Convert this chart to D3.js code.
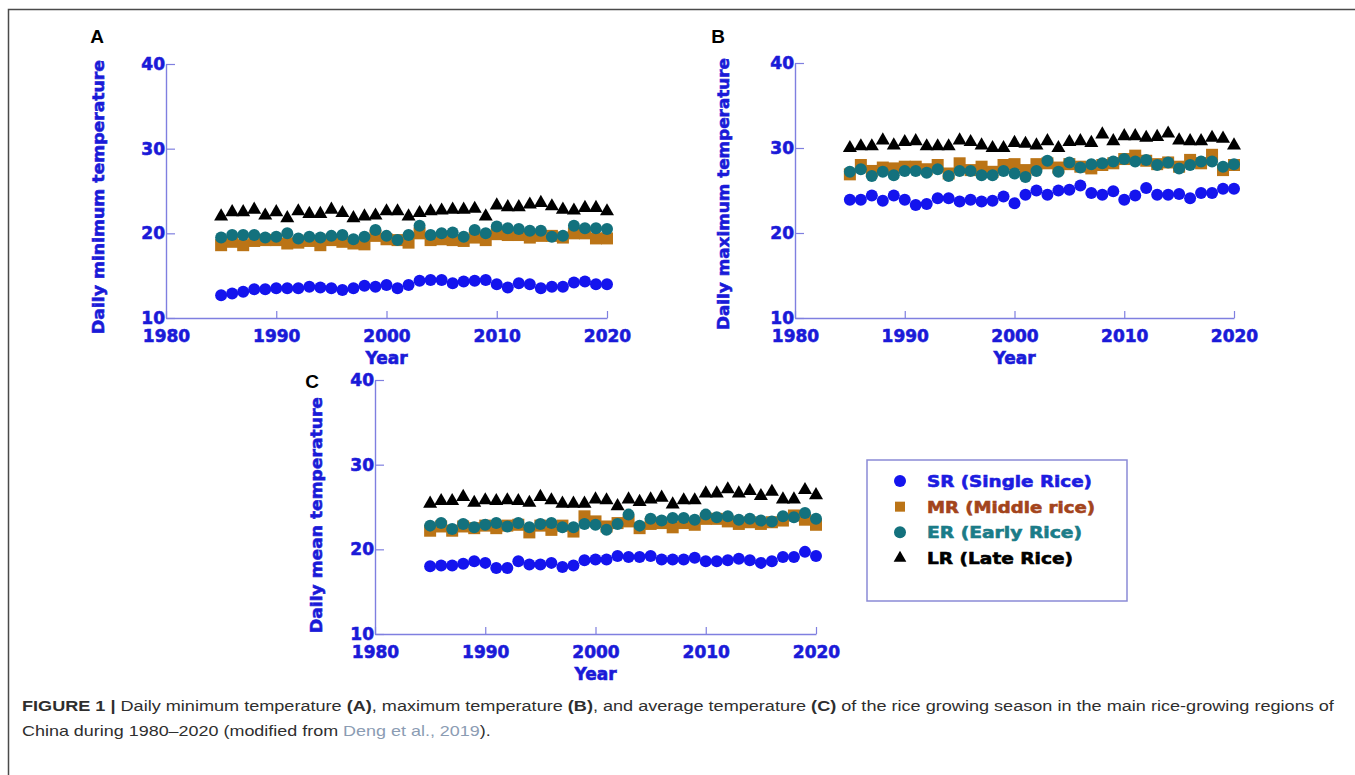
<!DOCTYPE html>
<html>
<head>
<meta charset="utf-8">
<script src="https://cdn.jsdelivr.net/npm/d3@7"></script>
<style>
  body { margin: 0; background: #fff; }
  svg { display: block; }
</style>
</head>
<body>
<div class="figWrap"></div>
<script>
var width = 1355,
  height = 775;

var years = d3.range(1985, 2021);
var seriesNames = ['SR (Single Rice)', 'MR (Middle rice)', 'ER (Early Rice)', 'LR (Late Rice)'];
var yTicks = [10, 20, 30, 40];
var xTicks = [1980, 1990, 2000, 2010, 2020];

// panel A - daily minimum temperature
var minSR = [12.7, 12.9, 13.1, 13.4, 13.4, 13.5, 13.5, 13.5, 13.7, 13.6, 13.5, 13.3, 13.5, 13.8, 13.7, 13.9, 13.5, 13.9, 14.4, 14.5, 14.5, 14.1, 14.3, 14.4, 14.5, 14.0, 13.6, 14.1, 14.0, 13.5, 13.7, 13.7, 14.2, 14.3, 14.0, 14.0];
var minMR = [18.6, 19.0, 18.6, 19.1, 19.2, 19.2, 18.8, 18.9, 19.1, 18.6, 19.2, 19.0, 18.8, 18.7, 19.7, 19.3, 19.2, 18.9, 20.0, 19.2, 19.3, 19.2, 19.1, 19.5, 19.2, 19.9, 19.8, 19.8, 19.5, 19.7, 19.7, 19.5, 20.0, 20.0, 19.4, 19.4];
var minER = [19.5, 19.8, 19.8, 19.8, 19.5, 19.6, 20.0, 19.4, 19.6, 19.5, 19.7, 19.8, 19.3, 19.6, 20.4, 19.7, 19.2, 19.8, 20.9, 19.8, 20.0, 20.1, 19.6, 20.4, 20.0, 20.8, 20.6, 20.5, 20.3, 20.3, 19.6, 19.7, 20.9, 20.6, 20.6, 20.5];
var minLR = [22.0, 22.5, 22.5, 22.8, 22.1, 22.5, 21.8, 22.6, 22.3, 22.3, 22.8, 22.4, 21.8, 22.0, 22.1, 22.6, 22.6, 22.0, 22.4, 22.6, 22.7, 22.8, 22.8, 22.9, 22.0, 23.3, 23.1, 23.1, 23.4, 23.6, 23.2, 22.8, 22.7, 23.0, 23.0, 22.6];

// panel B - daily maximum temperature
var maxSR = [23.9, 23.9, 24.4, 23.8, 24.4, 23.9, 23.3, 23.4, 24.1, 24.1, 23.7, 23.9, 23.7, 23.8, 24.3, 23.5, 24.5, 25.0, 24.5, 25.0, 25.1, 25.6, 24.7, 24.5, 24.9, 23.9, 24.4, 25.3, 24.5, 24.5, 24.6, 24.1, 24.7, 24.7, 25.2, 25.2];
var maxMR = [26.9, 28.0, 27.3, 27.7, 27.6, 27.8, 27.8, 27.5, 28.0, 27.0, 28.2, 27.4, 27.8, 27.2, 28.0, 28.1, 27.4, 28.1, 28.2, 27.7, 28.1, 27.8, 27.6, 28.0, 28.2, 28.7, 29.1, 28.5, 28.1, 28.3, 27.8, 28.6, 28.2, 29.2, 27.4, 28.0];
var maxER = [27.2, 27.5, 26.7, 27.2, 26.8, 27.3, 27.3, 27.1, 27.5, 26.7, 27.3, 27.3, 26.8, 26.8, 27.3, 27.0, 26.6, 27.3, 28.5, 27.2, 28.3, 27.7, 28.1, 28.2, 28.4, 28.7, 28.4, 28.6, 28.0, 28.3, 27.6, 28.0, 28.4, 28.4, 27.8, 28.1];
var maxLR = [30.0, 30.2, 30.2, 30.9, 30.3, 30.7, 30.8, 30.2, 30.2, 30.2, 30.9, 30.7, 30.3, 30.0, 30.0, 30.6, 30.5, 30.3, 30.8, 30.0, 30.7, 30.8, 30.6, 31.6, 30.8, 31.4, 31.4, 31.2, 31.3, 31.7, 30.9, 30.8, 30.8, 31.2, 31.1, 30.3];

// panel C - daily mean temperature
var meanSR = [18.0, 18.1, 18.1, 18.3, 18.6, 18.4, 17.8, 17.8, 18.6, 18.2, 18.2, 18.4, 17.9, 18.1, 18.7, 18.8, 18.8, 19.2, 19.1, 19.1, 19.2, 18.8, 18.8, 18.8, 19.0, 18.6, 18.6, 18.7, 18.9, 18.7, 18.4, 18.6, 19.1, 19.1, 19.7, 19.2];
var meanMR = [22.2, 22.7, 22.2, 22.7, 22.5, 22.8, 22.5, 22.8, 22.9, 22.0, 22.8, 22.3, 22.8, 22.1, 23.9, 23.3, 22.7, 23.1, 23.3, 22.5, 23.0, 23.1, 22.6, 23.1, 22.9, 23.6, 23.6, 23.3, 23.0, 23.2, 23.0, 23.2, 23.4, 24.0, 23.5, 22.9];
var meanER = [22.8, 23.1, 22.4, 23.0, 22.6, 22.9, 23.1, 22.7, 23.1, 22.6, 23.0, 23.1, 22.6, 22.6, 23.0, 22.9, 22.3, 23.0, 24.1, 22.8, 23.6, 23.4, 23.7, 23.7, 23.5, 24.1, 23.8, 23.9, 23.5, 23.6, 23.4, 23.3, 23.9, 23.8, 24.3, 23.6];
var meanLR = [25.4, 25.7, 25.7, 26.2, 25.5, 25.8, 25.7, 25.8, 25.7, 25.5, 26.2, 25.8, 25.4, 25.4, 25.4, 25.9, 25.8, 25.1, 25.9, 25.6, 25.9, 26.1, 25.3, 25.8, 25.8, 26.6, 26.6, 27.1, 26.6, 26.9, 26.3, 26.8, 25.9, 25.9, 27.0, 26.4];

var colors = {
  sr: '#1414ee',
  mr: '#bb7416',
  er: '#13717d',
  lr: '#000000'
};
var legendTextColors = ['#1c1ce0', '#a3441c', '#1b7c88', '#000000'];
var axisColor = '#7f7fe0',
  tickTextColor = '#1a1ad8',
  boldFont = '"DejaVu Sans", sans-serif';

var panels = [
  {letter: 'A', label: 'Daily minimum temperature', sr: minSR, mr: minMR, er: minER, lr: minLR,
    x0: 166, x1: 607, yBot: 318, yTop: 64, letterX: 97, letterY: 43, labelX: 104, labelY: 197, labelLen: 274},
  {letter: 'B', label: 'Daily maximum temperature', sr: maxSR, mr: maxMR, er: maxER, lr: maxLR,
    x0: 795, x1: 1234, yBot: 318, yTop: 63, letterX: 718, letterY: 43, labelX: 729, labelY: 194, labelLen: 272},
  {letter: 'C', label: 'Daily mean temperature', sr: meanSR, mr: meanMR, er: meanER, lr: meanLR,
    x0: 375, x1: 816, yBot: 634, yTop: 380, letterX: 312, letterY: 388, labelX: 322, labelY: 515, labelLen: 236}
];

var svg = d3.select('.figWrap')
  .append('svg')
  .attr('width', width)
  .attr('height', height);

// outer frame (top + left only)
svg.append('path')
  .attr('d', 'M8.5,' + height + ' V9.5 H' + width)
  .style('fill', 'none')
  .style('stroke', '#4a4a4a')
  .style('stroke-width', 1.5);

// heavy blue text used for ticks / titles
var heavy = function(sel, size, color){
  sel.style('fill', color)
    .style('stroke', color)
    .style('stroke-width', 0.6)
    .style('font-family', boldFont)
    .style('font-weight', 'bold')
    .style('font-size', size + 'px');
};

var drawPanel = function(p){
  var g = svg.append('g').attr('class', 'panel');

  var x = d3.scaleLinear().domain([1980, 2020]).range([p.x0, p.x1]);
  var y = d3.scaleLinear().domain([10, 40]).range([p.yBot, p.yTop]);

  //y axis
  var yAx = g.append('g')
    .attr('transform', 'translate(' + p.x0 + ',0)')
    .call(d3.axisLeft(y).tickValues(yTicks).tickSizeInner(-9).tickSizeOuter(0).tickPadding(1).tickFormat(d3.format('d')));

  //x axis
  var xAx = g.append('g')
    .attr('transform', 'translate(0,' + p.yBot + ')')
    .call(d3.axisBottom(x).tickValues(xTicks).tickSizeInner(-7).tickSizeOuter(0).tickPadding(12).tickFormat(d3.format('d')));

  [yAx, xAx].forEach(function(ax){
    ax.select('.domain').style('stroke', axisColor).style('stroke-width', 1.4);
    ax.selectAll('.tick line').style('stroke', axisColor).style('stroke-width', 1.2);
    ax.selectAll('.tick text').call(heavy, 17, tickTextColor);
  });

  g.append('text')
    .text('Year')
    .attr('x', x(2000))
    .attr('y', p.yBot + 46)
    .attr('text-anchor', 'middle')
    .call(heavy, 17, tickTextColor);

  g.append('text')
    .text(p.label)
    .attr('transform', 'translate(' + p.labelX + ',' + p.labelY + ') rotate(-90)')
    .attr('text-anchor', 'middle')
    .attr('textLength', p.labelLen)
    .attr('lengthAdjust', 'spacingAndGlyphs')
    .call(heavy, 16, tickTextColor);

  g.append('text')
    .text(p.letter)
    .attr('x', p.letterX)
    .attr('y', p.letterY)
    .attr('text-anchor', 'middle')
    .style('fill', '#000')
    .style('font-family', '"Liberation Sans", Arial, sans-serif')
    .style('font-weight', 'bold')
    .style('font-size', '19px');

  //MR squares (drawn first, sit behind ER)
  g.selectAll('.mr')
    .data(p.mr)
    .enter()
      .append('rect')
      .attr('class', 'mr')
      .attr('x', function(d, i){ return x(years[i]) - 6; })
      .attr('y', function(d){ return y(d) - 6; })
      .attr('width', 12)
      .attr('height', 12)
      .style('fill', colors.mr);

  g.selectAll('.er')
    .data(p.er)
    .enter()
      .append('circle')
      .attr('class', 'er')
      .attr('cx', function(d, i){ return x(years[i]); })
      .attr('cy', function(d){ return y(d); })
      .attr('r', 6)
      .style('fill', colors.er);

  g.selectAll('.sr')
    .data(p.sr)
    .enter()
      .append('circle')
      .attr('class', 'sr')
      .attr('cx', function(d, i){ return x(years[i]); })
      .attr('cy', function(d){ return y(d); })
      .attr('r', 6)
      .style('fill', colors.sr);

  var tri = d3.symbol().type(d3.symbolTriangle).size(85);
  g.selectAll('.lr')
    .data(p.lr)
    .enter()
      .append('path')
      .attr('class', 'lr')
      .attr('d', tri)
      .attr('transform', function(d, i){ return 'translate(' + x(years[i]) + ',' + y(d) + ')'; })
      .style('fill', colors.lr);
};

panels.forEach(drawPanel);

// legend
var legend = svg.append('g').attr('class', 'legend');
legend.append('rect')
  .attr('x', 867)
  .attr('y', 460)
  .attr('width', 260)
  .attr('height', 141)
  .style('fill', '#fff')
  .style('stroke', '#8a8ad6')
  .style('stroke-width', 1.5);

var legendLens = [165, 168, 155, 146];
var legendMarks = ['circle', 'square', 'circle', 'triangle'];
var legendFill = [colors.sr, colors.mr, colors.er, colors.lr];
var legendY = d3.scalePoint().domain(seriesNames).range([481, 558]);

seriesNames.forEach(function(name, i){
  var cy = legendY(name);
  if(legendMarks[i] == 'circle'){
    legend.append('circle').attr('cx', 900).attr('cy', cy).attr('r', 6).style('fill', legendFill[i]);
  } else if(legendMarks[i] == 'square'){
    legend.append('rect').attr('x', 895).attr('y', cy - 5).attr('width', 10).attr('height', 10).style('fill', legendFill[i]);
  } else {
    legend.append('path').attr('d', d3.symbol().type(d3.symbolTriangle).size(70)).attr('transform', 'translate(900,' + cy + ')').style('fill', legendFill[i]);
  }
  legend.append('text')
    .text(name)
    .attr('x', 927)
    .attr('y', cy + 6)
    .attr('textLength', legendLens[i])
    .attr('lengthAdjust', 'spacingAndGlyphs')
    .call(heavy, 16, legendTextColors[i]);
});

// caption
var capLines = [
  [
    {t: 'FIGURE 1 | ', b: true},
    {t: 'Daily minimum temperature '}, {t: '(A)', b: true},
    {t: ', maximum temperature '}, {t: '(B)', b: true},
    {t: ', and average temperature '}, {t: '(C)', b: true},
    {t: ' of the rice growing season in the main rice-growing regions of'}
  ],
  [
    {t: 'China during 1980\u20132020 (modified from '},
    {t: 'Deng et al., 2019', link: true},
    {t: ').'}
  ]
];
var capWidths = [1313, 469];
var capY = [711, 736];

capLines.forEach(function(line, li){
  var txt = svg.append('text')
    .attr('x', 22)
    .attr('y', capY[li])
    .style('font-family', '"Liberation Sans", Arial, sans-serif')
    .style('font-size', '15px')
    .style('fill', '#2e2e2e');
  txt.selectAll('tspan')
    .data(line)
    .enter()
      .append('tspan')
      .text(function(d){ return d.t; })
      .style('font-weight', function(d){ return d.b ? 'bold' : 'normal'; })
      .style('fill', function(d){ return d.link ? '#8b9cb3' : null; })
      .attr('xml:space', 'preserve');
  var w = txt.node().getComputedTextLength();
  var k = capWidths[li] / w;
  txt.attr('transform', 'translate(' + (22 - 22 * k) + ',0) scale(' + k + ',1)');
});
</script>
</body>
</html>
